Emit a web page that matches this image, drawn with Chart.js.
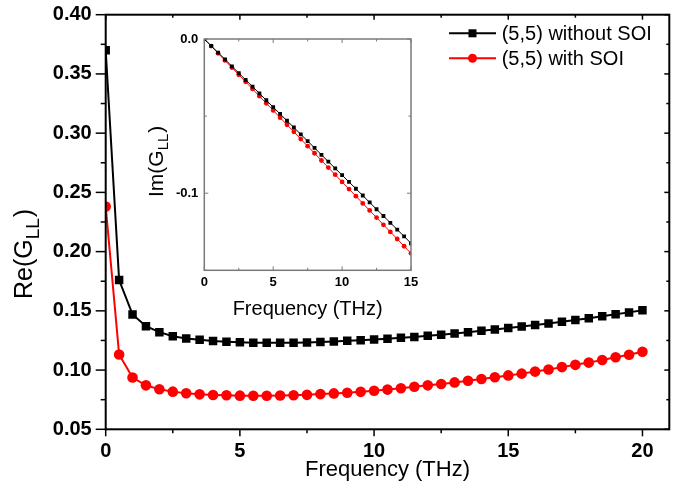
<!DOCTYPE html>
<html>
<head>
<meta charset="utf-8">
<script src="https://cdn.jsdelivr.net/npm/chart.js@4"></script>
<style>
body { margin: 0; background: #fff; }
#wrap { position: relative; width: 677px; height: 496px; }
#main { position: absolute; left: 0; top: 0; }
#inset { position: absolute; left: 130px; top: 25px; }
</style>
</head>
<body>
<div id="wrap">
  <canvas id="main" width="677" height="496"></canvas>
  <canvas id="inset" width="295" height="300"></canvas>
</div>
<script>
// main panel: Re(G_LL) vs frequency
const freq = [0, 0.5, 1, 1.5, 2, 2.5, 3, 3.5, 4, 4.5, 5, 5.5, 6, 6.5, 7, 7.5, 8, 8.5, 9, 9.5,
  10, 10.5, 11, 11.5, 12, 12.5, 13, 13.5, 14, 14.5, 15, 15.5, 16, 16.5, 17, 17.5, 18, 18.5, 19, 19.5, 20];
const reNoSoi = [0.370, 0.176, 0.147, 0.137, 0.132, 0.1285, 0.1267, 0.1256, 0.1245, 0.1239, 0.1234,
  0.1231, 0.1230, 0.1230, 0.1231, 0.1233, 0.1237, 0.1242, 0.1247, 0.1252, 0.1258, 0.1264, 0.1272,
  0.1280, 0.1289, 0.1298, 0.1308, 0.1319, 0.1331, 0.1343, 0.1355, 0.1367, 0.1380, 0.1393, 0.1407,
  0.1422, 0.1438, 0.1454, 0.1471, 0.1487, 0.1505];
const reSoi = [0.238, 0.1132, 0.0937, 0.0871, 0.0838, 0.0818, 0.0804, 0.0795, 0.0790, 0.0787, 0.0784,
  0.0783, 0.0783, 0.0785, 0.0787, 0.0791, 0.0797, 0.0803, 0.0809, 0.0816, 0.0825, 0.0835, 0.0847,
  0.0859, 0.0871, 0.0883, 0.0896, 0.0910, 0.0924, 0.0940, 0.0955, 0.0970, 0.0987, 0.1005, 0.1025,
  0.1044, 0.1063, 0.1085, 0.1108, 0.1129, 0.1155];

// inset: Im(G_LL) vs frequency
const freqInset = [0, 0.5, 1, 1.5, 2, 2.5, 3, 3.5, 4, 4.5, 5, 5.5, 6, 6.5, 7, 7.5, 8, 8.5, 9, 9.5,
  10, 10.5, 11, 11.5, 12, 12.5, 13, 13.5, 14, 14.5, 15];
const imNoSoi = [0, -0.0044, -0.0088, -0.0132, -0.0177, -0.0221, -0.0265, -0.0309, -0.0353, -0.0397,
  -0.0442, -0.0486, -0.0530, -0.0574, -0.0618, -0.0662, -0.0706, -0.0751, -0.0795, -0.0839, -0.0883,
  -0.0927, -0.0971, -0.1015, -0.1060, -0.1104, -0.1148, -0.1192, -0.1236, -0.1280, -0.1325];
const imSoi = [0, -0.0046, -0.0093, -0.0139, -0.0185, -0.0232, -0.0278, -0.0324, -0.0371, -0.0417,
  -0.0463, -0.0510, -0.0556, -0.0602, -0.0649, -0.0695, -0.0741, -0.0788, -0.0834, -0.0880, -0.0927,
  -0.0973, -0.1019, -0.1066, -0.1112, -0.1158, -0.1205, -0.1251, -0.1297, -0.1344, -0.1390];

const seriesNames = ['(5,5) without SOI', '(5,5) with SOI'];

// tick values
const xTicks = [0, 5, 10, 15, 20];
const xMinor = [2.5, 7.5, 12.5, 17.5];
const yTicks = [0.05, 0.10, 0.15, 0.20, 0.25, 0.30, 0.35, 0.40];
const yMinor = [0.075, 0.125, 0.175, 0.225, 0.275, 0.325, 0.375];
const xTicksInset = [0, 5, 10, 15];
const xMinorInset = [2.5, 7.5, 12.5];
const yTicksInset = [0, -0.1];
const yMinorInset = [-0.05, -0.15];

const FONT = '"Liberation Sans", Arial, sans-serif';

function pts(xs, ys) {
  return xs.map((x, i) => ({ x: x, y: ys[i] }));
}

function setTicks(list) {
  return function (scale) { scale.ticks = list.map(v => ({ value: v })); };
}

// rotated axis title with a subscript, e.g. Re(G_LL)
function drawRotTitle(ctx, x, y, pre, sub, post, size, subSize) {
  ctx.save();
  ctx.translate(x, y);
  ctx.rotate(-Math.PI / 2);
  ctx.fillStyle = '#000';
  ctx.textAlign = 'left';
  ctx.textBaseline = 'alphabetic';
  ctx.font = size + 'px ' + FONT;
  let u = 0;
  ctx.fillText(pre, u, 0);
  u += ctx.measureText(pre).width;
  ctx.font = subSize + 'px ' + FONT;
  ctx.fillText(sub, u, subSize * 0.35);
  u += ctx.measureText(sub).width + 1;
  ctx.font = size + 'px ' + FONT;
  ctx.fillText(post, u, 0);
  ctx.restore();
}

function tickLine(ctx, x1, y1, x2, y2) {
  ctx.beginPath();
  ctx.moveTo(x1, y1);
  ctx.lineTo(x2, y2);
  ctx.stroke();
}

const mainDecor = {
  id: 'mainDecor',
  afterDraw(chart) {
    const ctx = chart.ctx, a = chart.chartArea;
    const xs = chart.scales.x, ys = chart.scales.y;
    ctx.save();
    ctx.strokeStyle = '#000';
    ctx.lineWidth = 2;
    ctx.strokeRect(a.left, a.top, a.right - a.left, a.bottom - a.top);
    ctx.lineWidth = 1.5;
    xTicks.forEach(v => {
      const p = xs.getPixelForValue(v);
      tickLine(ctx, p, a.bottom, p, a.bottom + 7);
      tickLine(ctx, p, a.top, p, a.top + 5);
    });
    xMinor.forEach(v => {
      const p = xs.getPixelForValue(v);
      tickLine(ctx, p, a.bottom, p, a.bottom + 4);
      tickLine(ctx, p, a.top, p, a.top + 3);
    });
    yTicks.forEach(v => {
      const p = ys.getPixelForValue(v);
      tickLine(ctx, a.left - 10, p, a.left, p);
      tickLine(ctx, a.right - 5, p, a.right, p);
    });
    yMinor.forEach(v => {
      const p = ys.getPixelForValue(v);
      tickLine(ctx, a.left - 5, p, a.left, p);
      tickLine(ctx, a.right - 3, p, a.right, p);
    });

    // titles
    ctx.fillStyle = '#000';
    ctx.font = '22px ' + FONT;
    ctx.textAlign = 'center';
    ctx.textBaseline = 'middle';
    ctx.fillText('Frequency (THz)', (a.left + a.right) / 2, 470);
    drawRotTitle(ctx, 32, 299, 'Re(G', 'LL', ')', 25, 19);

    // legend
    const ds = chart.data.datasets;
    const rows = [33.3, 58.3];
    rows.forEach((ry, i) => {
      const d = ds[i];
      ctx.strokeStyle = d.borderColor;
      ctx.fillStyle = d.backgroundColor;
      ctx.lineWidth = 2;
      tickLine(ctx, 449, ry, 496, ry);
      ctx.beginPath();
      if (d.pointStyle === 'rect') {
        ctx.rect(468.5, ry - 4, 8, 8);
      } else {
        ctx.arc(472.5, ry, 4.5, 0, Math.PI * 2);
      }
      ctx.fill();
      ctx.fillStyle = '#000';
      ctx.font = '20px ' + FONT;
      ctx.textAlign = 'left';
      ctx.textBaseline = 'middle';
      ctx.fillText(d.label, 501.7, ry + 1);
    });
    ctx.restore();
  }
};

const insetDecor = {
  id: 'insetDecor',
  afterDraw(chart) {
    const ctx = chart.ctx, a = chart.chartArea;
    const xs = chart.scales.x, ys = chart.scales.y;
    ctx.save();
    ctx.strokeStyle = '#7a7a7a';
    ctx.lineWidth = 1.5;
    ctx.strokeRect(a.left, a.top, a.right - a.left, a.bottom - a.top);
    ctx.lineWidth = 1;
    xTicksInset.forEach(v => {
      const p = xs.getPixelForValue(v);
      tickLine(ctx, p, a.bottom, p, a.bottom - 4);
      tickLine(ctx, p, a.top, p, a.top + 4);
    });
    xMinorInset.forEach(v => {
      const p = xs.getPixelForValue(v);
      tickLine(ctx, p, a.bottom, p, a.bottom - 2.5);
      tickLine(ctx, p, a.top, p, a.top + 2.5);
    });
    yTicksInset.forEach(v => {
      const p = ys.getPixelForValue(v);
      tickLine(ctx, a.left, p, a.left + 4, p);
      tickLine(ctx, a.right - 4, p, a.right, p);
    });
    yMinorInset.forEach(v => {
      const p = ys.getPixelForValue(v);
      tickLine(ctx, a.left, p, a.left + 2.5, p);
      tickLine(ctx, a.right - 2.5, p, a.right, p);
    });
    ctx.fillStyle = '#000';
    ctx.font = '20px ' + FONT;
    ctx.textAlign = 'center';
    ctx.textBaseline = 'middle';
    ctx.fillText('Frequency (THz)', (a.left + a.right) / 2, 284);
    drawRotTitle(ctx, 33, 172, 'Im(G', 'LL', ')', 21, 15);
    ctx.restore();
  }
};

function axisOpts(min, max, ticks, size, pad, fmt, fit) {
  return {
    type: 'linear',
    min: min,
    max: max,
    grid: { display: false, drawTicks: false },
    border: { display: false },
    afterBuildTicks: setTicks(ticks),
    afterFit: function (s) {
      fit(s);
      s.paddingTop = 0;
      s.paddingBottom = 0;
      s.paddingLeft = 0;
      s.paddingRight = 0;
    },
    ticks: {
      color: '#000',
      font: { family: FONT, size: size, weight: 'bold' },
      padding: pad,
      maxRotation: 0,
      autoSkip: false,
      includeBounds: false,
      callback: fmt
    }
  };
}

new Chart(document.getElementById('main'), {
  type: 'line',
  data: {
    datasets: [
      {
        label: seriesNames[0],
        data: pts(freq, reNoSoi),
        borderColor: '#000',
        backgroundColor: '#000',
        borderWidth: 2,
        pointStyle: 'rect',
        pointRadius: 6,
        pointBorderWidth: 0
      },
      {
        label: seriesNames[1],
        data: pts(freq, reSoi),
        borderColor: '#ff0000',
        backgroundColor: '#ff0000',
        borderWidth: 2,
        pointStyle: 'circle',
        pointRadius: 5.3,
        pointBorderWidth: 0
      }
    ]
  },
  options: {
    responsive: false,
    animation: false,
    layout: { padding: { top: 14.7, right: 7.7, left: 0, bottom: 0 } },
    plugins: { legend: { display: false }, tooltip: { enabled: false } },
    scales: {
      x: axisOpts(0, 21, xTicks, 20, 10, v => String(v), s => { s.height = 66.7; }),
      y: axisOpts(0.05, 0.40, yTicks, 20, 14, v => v.toFixed(2), s => { s.width = 105.7; })
    }
  },
  plugins: [mainDecor]
});

new Chart(document.getElementById('inset'), {
  type: 'line',
  data: {
    datasets: [
      {
        label: seriesNames[0],
        data: pts(freqInset, imNoSoi),
        borderColor: '#000',
        backgroundColor: '#000',
        borderWidth: 1,
        pointStyle: 'rect',
        pointRadius: 2.7,
        pointBorderWidth: 0
      },
      {
        label: seriesNames[1],
        data: pts(freqInset, imSoi),
        borderColor: '#ff0000',
        backgroundColor: '#ff0000',
        borderWidth: 1,
        pointStyle: 'circle',
        pointRadius: 2.4,
        pointBorderWidth: 0
      }
    ]
  },
  options: {
    responsive: false,
    animation: false,
    layout: { padding: { top: 14, right: 14, left: 0, bottom: 0 } },
    plugins: { legend: { display: false }, tooltip: { enabled: false } },
    scales: {
      x: axisOpts(0, 15, xTicksInset, 13, 4.6, v => String(v), s => { s.height = 54.7; }),
      y: axisOpts(-0.15, 0, yTicksInset, 13, 6, v => (v === 0 ? '0.0' : v.toFixed(1)), s => { s.width = 74.3; })
    }
  },
  plugins: [insetDecor]
});
</script>
</body>
</html>
